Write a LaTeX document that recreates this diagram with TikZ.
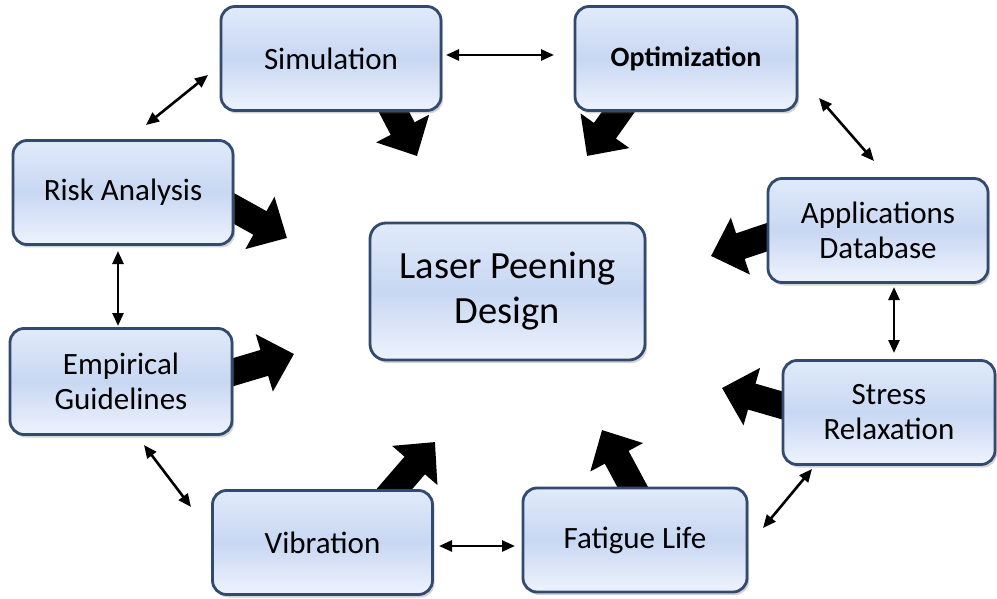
\documentclass[tikz,border=0pt]{standalone}
\usepackage{fontspec}
\setmainfont{Carlito}
\usetikzlibrary{arrows.meta,shadows,backgrounds,calc}
\definecolor{boxA}{RGB}{224,234,250}
\definecolor{boxB}{RGB}{200,215,242}
\definecolor{boxC}{RGB}{238,243,253}
\definecolor{boxline}{RGB}{50,74,110}
\begin{document}
\begin{tikzpicture}[x=1pt,y=-1pt,
  box/.style={draw=boxline, line width=2.8pt, rounded corners=14pt,
    top color=boxA, bottom color=boxC, middle color=boxB,
    minimum width=220pt, minimum height=104pt, align=center, inner sep=2pt,
    font=\fontsize{31}{35}\selectfont,
    drop shadow={shadow xshift=2pt, shadow yshift=-3pt, opacity=0.35}},
  fat/.style={line width=27pt, -{Triangle[width=58pt,length=31pt]}},
  dbl/.style={line width=2.6pt, {Triangle[width=11pt,length=13pt]}-{Triangle[width=11pt,length=13pt]}}]
\useasboundingbox (0,0) rectangle (997,599);

\node[box] (sim) at (331,58.5) {Simulation};
\node[box, font=\bfseries\fontsize{28}{34}\selectfont, minimum width=222pt] (opt) at (686,58.5) {Optimization};
\node[box] (risk) at (123,192.5) {Risk Analysis};
\node[box] (app) at (878,230.5) {Applications\\Database};
\node[box, minimum width=275pt, minimum height=137pt, rounded corners=16pt,
  font=\fontsize{38.5}{45}\selectfont] (lpd) at (507.5,291.5) {Laser Peening\\Design};
\node[box, minimum width=222pt, minimum height=106pt] (emp) at (121,381.5) {Empirical\\Guidelines};
\node[box, minimum width=212pt] (stress) at (889,412.5) {Stress\\Relaxation};
\node[box] (vib) at (322.5,542.5) {Vibration};
\node[box, minimum width=224pt] (fat) at (635,540) {Fatigue Life};

% tips of the block arrows
\coordinate (tSim) at (417,156);
\coordinate (tOpt) at (587,156);
\coordinate (tRisk) at (287,238);
\coordinate (tEmp) at (294,354);
\coordinate (tVib) at (435,442);
\coordinate (tFat) at (602,430);
\coordinate (tStress) at (722,388);
\coordinate (tApp) at (711,256);

\begin{scope}[on background layer]
\draw[fat] ($(sim.center)+(57,42)$) -- (tSim);
\draw[fat] ($(opt.center)+(-61,44)$) -- (tOpt);
\draw[fat] ($(risk.center)+(102,11)$) -- (tRisk);
\draw[fat] ($(emp.center)+(101,-6)$) -- (tEmp);
\draw[fat] ($(vib.center)+(62,-42)$) -- (tVib);
\draw[fat] ($(fat.center)+(2,-45)$) -- (tFat);
\draw[fat] ($(stress.center)+(-96,-4)$) -- (tStress);
\draw[fat] ($(app.center)+(-100,3)$) -- (tApp);
\end{scope}

% double arrows
\coordinate (a1) at (208,75);   \coordinate (b1) at (146,125);
\coordinate (a2) at (446,55);   \coordinate (b2) at (554,55);
\coordinate (a3) at (819,98);   \coordinate (b3) at (874,161);
\coordinate (a4) at (118,251);  \coordinate (b4) at (118,326);
\coordinate (a5) at (894,287);  \coordinate (b5) at (894,353);
\coordinate (a6) at (144,445);  \coordinate (b6) at (191,507);
\coordinate (a7) at (439,546);  \coordinate (b7) at (515,546);
\coordinate (a8) at (812,469);  \coordinate (b8) at (763,528);
\foreach \i in {1,...,8} \draw[dbl] (a\i) -- (b\i);
\end{tikzpicture}
\end{document}
